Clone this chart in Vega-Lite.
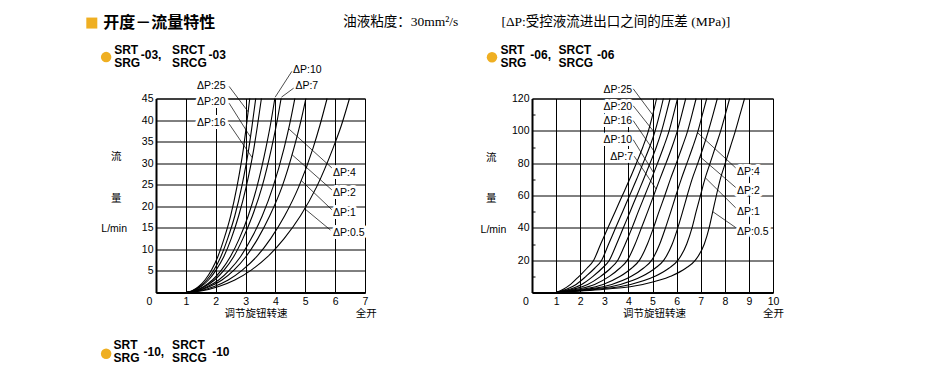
{
 "$schema": "https://vega.github.io/schema/vega-lite/v6.json",
 "background": "#ffffff",
 "padding": {"left": 85, "top": 14.5, "right": 10, "bottom": 8},
 "spacing": 167,
 "bounds": "flush",
 "config": {
  "view": {"stroke": "#000000", "strokeWidth": 1},
  "axis": {"gridColor": "#000000", "gridWidth": 1, "gridOpacity": 1, "domainColor": "#000000", "domainWidth": 2, "labelColor": "#000000", "labelFont": "Liberation Sans", "labelFontSize": 10.5, "labelFlush": false, "labelOverlap": false, "ticks": false}
 },
 "datasets": {
  "lc": [
   {"d":"25","x":1,"y":0},{"d":"25","x":1.21,"y":0.4},{"d":"25","x":1.43,"y":1.4},{"d":"25","x":1.64,"y":2.9},{"d":"25","x":1.86,"y":5.2},{"d":"25","x":2.07,"y":8.3},{"d":"25","x":2.28,"y":12.5},{"d":"25","x":2.5,"y":17.8},{"d":"25","x":2.71,"y":24.5},{"d":"25","x":2.93,"y":33.5},{"d":"25","x":3.03,"y":38.8},{"d":"25","x":3.14,"y":45},
   {"d":"20","x":1,"y":0},{"d":"20","x":1.23,"y":0.4},{"d":"20","x":1.47,"y":1.4},{"d":"20","x":1.7,"y":2.9},{"d":"20","x":1.94,"y":5.2},{"d":"20","x":2.17,"y":8.3},{"d":"20","x":2.4,"y":12.5},{"d":"20","x":2.64,"y":17.8},{"d":"20","x":2.87,"y":24.5},{"d":"20","x":3.11,"y":33.5},{"d":"20","x":3.22,"y":38.8},{"d":"20","x":3.34,"y":45},
   {"d":"16","x":1,"y":0},{"d":"16","x":1.25,"y":0.4},{"d":"16","x":1.51,"y":1.4},{"d":"16","x":1.76,"y":2.9},{"d":"16","x":2.01,"y":5.2},{"d":"16","x":2.27,"y":8.3},{"d":"16","x":2.52,"y":12.5},{"d":"16","x":2.77,"y":17.8},{"d":"16","x":3.02,"y":24.5},{"d":"16","x":3.28,"y":33.5},{"d":"16","x":3.4,"y":38.8},{"d":"16","x":3.53,"y":45},
   {"d":"10","x":1,"y":0},{"d":"10","x":1.3,"y":0.4},{"d":"10","x":1.6,"y":1.4},{"d":"10","x":1.89,"y":2.9},{"d":"10","x":2.19,"y":5.2},{"d":"10","x":2.49,"y":8.3},{"d":"10","x":2.79,"y":12.5},{"d":"10","x":3.09,"y":17.8},{"d":"10","x":3.38,"y":24.5},{"d":"10","x":3.68,"y":33.5},{"d":"10","x":3.83,"y":38.8},{"d":"10","x":3.98,"y":45},
   {"d":"7","x":1,"y":0},{"d":"7","x":1.32,"y":0.4},{"d":"7","x":1.64,"y":1.4},{"d":"7","x":1.96,"y":2.9},{"d":"7","x":2.28,"y":5.2},{"d":"7","x":2.6,"y":8.3},{"d":"7","x":2.91,"y":12.5},{"d":"7","x":3.23,"y":17.8},{"d":"7","x":3.55,"y":24.5},{"d":"7","x":3.87,"y":33.5},{"d":"7","x":4.03,"y":38.8},{"d":"7","x":4.19,"y":45},
   {"d":"4","x":1,"y":0},{"d":"4","x":1.37,"y":0.4},{"d":"4","x":1.73,"y":1.4},{"d":"4","x":2.1,"y":2.9},{"d":"4","x":2.46,"y":5.2},{"d":"4","x":2.83,"y":8.3},{"d":"4","x":3.19,"y":12.5},{"d":"4","x":3.56,"y":17.8},{"d":"4","x":3.92,"y":24.5},{"d":"4","x":4.29,"y":33.5},{"d":"4","x":4.47,"y":38.8},{"d":"4","x":4.65,"y":45},
   {"d":"2","x":1,"y":0},{"d":"2","x":1.4,"y":0.4},{"d":"2","x":1.8,"y":1.4},{"d":"2","x":2.21,"y":2.9},{"d":"2","x":2.61,"y":5.2},{"d":"2","x":3.01,"y":8.3},{"d":"2","x":3.41,"y":12.5},{"d":"2","x":3.81,"y":17.8},{"d":"2","x":4.22,"y":24.5},{"d":"2","x":4.62,"y":33.5},{"d":"2","x":4.82,"y":38.8},{"d":"2","x":5.02,"y":45},
   {"d":"1","x":1,"y":0},{"d":"1","x":1.47,"y":0.4},{"d":"1","x":1.95,"y":1.4},{"d":"1","x":2.42,"y":2.9},{"d":"1","x":2.89,"y":5.2},{"d":"1","x":3.37,"y":8.3},{"d":"1","x":3.84,"y":12.5},{"d":"1","x":4.31,"y":17.8},{"d":"1","x":4.78,"y":24.5},{"d":"1","x":5.26,"y":33.5},{"d":"1","x":5.49,"y":38.8},{"d":"1","x":5.73,"y":45},
   {"d":"0.5","x":1,"y":0},{"d":"0.5","x":1.55,"y":0.4},{"d":"0.5","x":2.1,"y":1.4},{"d":"0.5","x":2.64,"y":2.9},{"d":"0.5","x":3.19,"y":5.2},{"d":"0.5","x":3.74,"y":8.3},{"d":"0.5","x":4.29,"y":12.5},{"d":"0.5","x":4.84,"y":17.8},{"d":"0.5","x":5.38,"y":24.5},{"d":"0.5","x":5.93,"y":33.5},{"d":"0.5","x":6.21,"y":38.8},{"d":"0.5","x":6.48,"y":45}
  ],
  "rc": [
   {"d":"25","x":1,"y":0},{"d":"25","x":1.3,"y":2},{"d":"25","x":1.6,"y":5},{"d":"25","x":1.95,"y":10},{"d":"25","x":2.28,"y":15},{"d":"25","x":2.56,"y":20},{"d":"25","x":2.85,"y":30},{"d":"25","x":3.15,"y":40},{"d":"25","x":3.45,"y":50},{"d":"25","x":3.75,"y":60},{"d":"25","x":4.05,"y":70},{"d":"25","x":4.33,"y":80},{"d":"25","x":4.6,"y":90},{"d":"25","x":4.83,"y":100},{"d":"25","x":5.01,"y":110},{"d":"25","x":5.17,"y":120},
   {"d":"20","x":1,"y":0},{"d":"20","x":1.43,"y":2},{"d":"20","x":1.83,"y":5},{"d":"20","x":2.24,"y":10},{"d":"20","x":2.6,"y":15},{"d":"20","x":2.89,"y":20},{"d":"20","x":3.18,"y":30},{"d":"20","x":3.47,"y":40},{"d":"20","x":3.76,"y":50},{"d":"20","x":4.05,"y":60},{"d":"20","x":4.34,"y":70},{"d":"20","x":4.61,"y":80},{"d":"20","x":4.88,"y":90},{"d":"20","x":5.11,"y":100},{"d":"20","x":5.29,"y":110},{"d":"20","x":5.45,"y":120},
   {"d":"16","x":1,"y":0},{"d":"16","x":1.56,"y":2},{"d":"16","x":2.06,"y":5},{"d":"16","x":2.53,"y":10},{"d":"16","x":2.91,"y":15},{"d":"16","x":3.21,"y":20},{"d":"16","x":3.51,"y":30},{"d":"16","x":3.79,"y":40},{"d":"16","x":4.07,"y":50},{"d":"16","x":4.35,"y":60},{"d":"16","x":4.63,"y":70},{"d":"16","x":4.9,"y":80},{"d":"16","x":5.16,"y":90},{"d":"16","x":5.38,"y":100},{"d":"16","x":5.56,"y":110},{"d":"16","x":5.73,"y":120},
   {"d":"10","x":1,"y":0},{"d":"10","x":1.7,"y":2},{"d":"10","x":2.31,"y":5},{"d":"10","x":2.85,"y":10},{"d":"10","x":3.26,"y":15},{"d":"10","x":3.56,"y":20},{"d":"10","x":3.87,"y":30},{"d":"10","x":4.15,"y":40},{"d":"10","x":4.41,"y":50},{"d":"10","x":4.68,"y":60},{"d":"10","x":4.95,"y":70},{"d":"10","x":5.21,"y":80},{"d":"10","x":5.46,"y":90},{"d":"10","x":5.69,"y":100},{"d":"10","x":5.87,"y":110},{"d":"10","x":6.04,"y":120},
   {"d":"7","x":1,"y":0},{"d":"7","x":1.86,"y":2},{"d":"7","x":2.6,"y":5},{"d":"7","x":3.21,"y":10},{"d":"7","x":3.64,"y":15},{"d":"7","x":3.96,"y":20},{"d":"7","x":4.28,"y":30},{"d":"7","x":4.54,"y":40},{"d":"7","x":4.8,"y":50},{"d":"7","x":5.05,"y":60},{"d":"7","x":5.3,"y":70},{"d":"7","x":5.56,"y":80},{"d":"7","x":5.81,"y":90},{"d":"7","x":6.03,"y":100},{"d":"7","x":6.21,"y":110},{"d":"7","x":6.38,"y":120},
   {"d":"5","x":1,"y":0},{"d":"5","x":2.07,"y":2},{"d":"5","x":2.95,"y":5},{"d":"5","x":3.66,"y":10},{"d":"5","x":4.13,"y":15},{"d":"5","x":4.46,"y":20},{"d":"5","x":4.79,"y":30},{"d":"5","x":5.04,"y":40},{"d":"5","x":5.27,"y":50},{"d":"5","x":5.51,"y":60},{"d":"5","x":5.74,"y":70},{"d":"5","x":5.99,"y":80},{"d":"5","x":6.23,"y":90},{"d":"5","x":6.46,"y":100},{"d":"5","x":6.64,"y":110},{"d":"5","x":6.81,"y":120},
   {"d":"4","x":1,"y":0},{"d":"4","x":2.27,"y":2},{"d":"4","x":3.31,"y":5},{"d":"4","x":4.12,"y":10},{"d":"4","x":4.62,"y":15},{"d":"4","x":4.97,"y":20},{"d":"4","x":5.3,"y":30},{"d":"4","x":5.54,"y":40},{"d":"4","x":5.76,"y":50},{"d":"4","x":5.97,"y":60},{"d":"4","x":6.19,"y":70},{"d":"4","x":6.43,"y":80},{"d":"4","x":6.67,"y":90},{"d":"4","x":6.89,"y":100},{"d":"4","x":7.07,"y":110},{"d":"4","x":7.25,"y":120},
   {"d":"2","x":1,"y":0},{"d":"2","x":2.47,"y":2},{"d":"2","x":3.67,"y":5},{"d":"2","x":4.57,"y":10},{"d":"2","x":5.11,"y":15},{"d":"2","x":5.47,"y":20},{"d":"2","x":5.82,"y":30},{"d":"2","x":6.05,"y":40},{"d":"2","x":6.25,"y":50},{"d":"2","x":6.44,"y":60},{"d":"2","x":6.64,"y":70},{"d":"2","x":6.88,"y":80},{"d":"2","x":7.11,"y":90},{"d":"2","x":7.32,"y":100},{"d":"2","x":7.51,"y":110},{"d":"2","x":7.69,"y":120},
   {"d":"1","x":1,"y":0},{"d":"1","x":2.71,"y":2},{"d":"1","x":4.09,"y":5},{"d":"1","x":5.1,"y":10},{"d":"1","x":5.68,"y":15},{"d":"1","x":6.06,"y":20},{"d":"1","x":6.42,"y":30},{"d":"1","x":6.64,"y":40},{"d":"1","x":6.81,"y":50},{"d":"1","x":6.99,"y":60},{"d":"1","x":7.17,"y":70},{"d":"1","x":7.39,"y":80},{"d":"1","x":7.61,"y":90},{"d":"1","x":7.83,"y":100},{"d":"1","x":8.02,"y":110},{"d":"1","x":8.2,"y":120},
   {"d":"0.5","x":1,"y":0},{"d":"0.5","x":3.0,"y":2},{"d":"0.5","x":4.6,"y":5},{"d":"0.5","x":5.75,"y":10},{"d":"0.5","x":6.38,"y":15},{"d":"0.5","x":6.78,"y":20},{"d":"0.5","x":7.15,"y":30},{"d":"0.5","x":7.35,"y":40},{"d":"0.5","x":7.5,"y":50},{"d":"0.5","x":7.65,"y":60},{"d":"0.5","x":7.81,"y":70},{"d":"0.5","x":8.02,"y":80},{"d":"0.5","x":8.23,"y":90},{"d":"0.5","x":8.44,"y":100},{"d":"0.5","x":8.63,"y":110},{"d":"0.5","x":8.82,"y":120}
  ],
  "ll": [
   {"t":"ΔP:25","x":1.37,"y":47.9},
   {"t":"ΔP:20","x":1.37,"y":44.3},
   {"t":"ΔP:16","x":1.37,"y":39.4},
   {"t":"ΔP:10","x":4.59,"y":51.7},
   {"t":"ΔP:7","x":4.67,"y":47.8},
   {"t":"ΔP:4","x":5.93,"y":27.8},
   {"t":"ΔP:2","x":5.93,"y":23.1},
   {"t":"ΔP:1","x":5.93,"y":18.4},
   {"t":"ΔP:0.5","x":5.93,"y":13.8}
  ],
  "lr": [
   {"x":2.45,"y":47.8,"x2":3.09,"y2":41.9},
   {"x":2.45,"y":43.9,"x2":3.16,"y2":36.1},
   {"x":2.45,"y":39.1,"x2":3.22,"y2":31.3},
   {"x":4.55,"y":51.3,"x2":3.99,"y2":45.3},
   {"x":4.61,"y":47.4,"x2":4.2,"y2":45.3},
   {"x":5.89,"y":28.9,"x2":4.44,"y2":38},
   {"x":5.89,"y":23.8,"x2":4.55,"y2":32},
   {"x":5.89,"y":19.2,"x2":4.86,"y2":26},
   {"x":5.84,"y":14.5,"x2":4.97,"y2":19.5}
  ],
  "rl": [
   {"t":"ΔP:25","x":2.97,"y":125.4},
   {"t":"ΔP:20","x":2.97,"y":115.0},
   {"t":"ΔP:16","x":2.97,"y":106.0},
   {"t":"ΔP:10","x":2.97,"y":94.1},
   {"t":"ΔP:7","x":3.25,"y":83.9},
   {"t":"ΔP:4","x":8.51,"y":74.6},
   {"t":"ΔP:2","x":8.51,"y":62.5},
   {"t":"ΔP:1","x":8.51,"y":49.9},
   {"t":"ΔP:0.5","x":8.51,"y":37.7}
  ],
  "rr": [
   {"x":4.2,"y":126.0,"x2":5.0,"y2":110},
   {"x":4.2,"y":115.5,"x2":5.08,"y2":99},
   {"x":4.2,"y":106.3,"x2":5.08,"y2":87},
   {"x":4.2,"y":94.5,"x2":5.05,"y2":74},
   {"x":4.24,"y":84.3,"x2":5.15,"y2":64},
   {"x":8.45,"y":77.1,"x2":6.86,"y2":99},
   {"x":8.45,"y":65.0,"x2":6.97,"y2":84},
   {"x":8.45,"y":52.4,"x2":7.19,"y2":71},
   {"x":8.45,"y":40.2,"x2":7.5,"y2":50}
  ],
  "lt": [
   {"role":"sq","x":-2.15,"y":62.5},
   {"role":"h1","t":"开度－流量特性","x":-1.77,"y":62.5},
   {"role":"h2","t":"油液粘度：30mm²/s","x":6.27,"y":62.7},
   {"role":"dot","x":-1.67,"y":54.6},
   {"role":"sub","t":"SRT","x":-1.4,"y":56.2},
   {"role":"sub","t":"SRG","x":-1.4,"y":53.3},
   {"role":"sub","t":"-03,","x":-0.51,"y":55.0},
   {"role":"sub","t":"SRCT","x":0.54,"y":56.2},
   {"role":"sub","t":"SRCG","x":0.54,"y":53.3},
   {"role":"sub","t":"-03","x":1.76,"y":55.0},
   {"role":"dot","x":-1.67,"y":-14.2},
   {"role":"sub","t":"SRT","x":-1.42,"y":-12.1},
   {"role":"sub","t":"SRG","x":-1.42,"y":-15.2},
   {"role":"sub","t":"-10,","x":-0.42,"y":-13.7},
   {"role":"sub","t":"SRCT","x":0.54,"y":-12.1},
   {"role":"sub","t":"SRCG","x":0.54,"y":-15.2},
   {"role":"sub","t":"-10","x":1.88,"y":-13.7},
   {"role":"ax","t":"流","x":-1.33,"y":31.4},
   {"role":"ax","t":"量","x":-1.33,"y":21.7},
   {"role":"ax","t":"L/min","x":-1.4,"y":14.7},
   {"role":"ax","t":"调节旋钮转速","x":3.35,"y":-5.0},
   {"role":"ax","t":"全开","x":7.04,"y":-5.0}
  ],
  "rt": [
   {"role":"h2","t":"[ΔP:受控液流进出口之间的压差 (MPa)]","x":-1.27,"y":167.2},
   {"role":"dot","x":-1.66,"y":145.5},
   {"role":"sub","t":"SRT","x":-1.31,"y":149.9},
   {"role":"sub","t":"SRG","x":-1.31,"y":142.1},
   {"role":"sub","t":"-06,","x":-0.07,"y":146.7},
   {"role":"sub","t":"SRCT","x":1.1,"y":149.9},
   {"role":"sub","t":"SRCG","x":1.1,"y":142.1},
   {"role":"sub","t":"-06","x":2.7,"y":146.7},
   {"role":"ax","t":"流","x":-1.69,"y":83.1},
   {"role":"ax","t":"量","x":-1.69,"y":57.8},
   {"role":"ax","t":"L/min","x":-1.6,"y":38.8},
   {"role":"ax","t":"调节旋钮转速","x":5.08,"y":-13.4},
   {"role":"ax","t":"全开","x":10.02,"y":-13.4}
  ]
 },
 "hconcat": [
  {
   "width": 209, "height": 194,
   "encoding": {
    "x": {"field": "x", "type": "quantitative", "scale": {"domain": [0, 7], "nice": false, "zero": false},
          "axis": {"values": [0,1,2,3,4,5,6,7], "title": null, "grid": true, "labelPadding": 4,
                   "labelOffset": {"condition": {"test": "datum.value === 0", "value": -7}, "value": 0}}},
    "y": {"field": "y", "type": "quantitative", "scale": {"domain": [0, 45], "nice": false, "zero": false},
          "axis": {"values": [0,5,10,15,20,25,30,35,40,45], "title": null, "grid": true, "labelPadding": 3,
                   "labelExpr": "datum.value === 0 ? '' : datum.label"}}
   },
   "layer": [
    {
     "data": {"name": "lc"},
     "mark": {"type": "line", "color": "#000000", "strokeWidth": 1.1, "interpolate": "monotone"},
     "encoding": {"detail": {"field": "d"}}
    },
    {
     "data": {"name": "ll"},
     "mark": {"type": "text", "align": "left", "baseline": "middle", "font": "Liberation Sans", "fontSize": 10.5, "fill": "#ffffff", "stroke": "#ffffff", "strokeWidth": 6, "strokeJoin": "round"},
     "encoding": {"text": {"field": "t"}}
    },
    {
     "data": {"name": "lr"},
     "mark": {"type": "rule", "color": "#000000", "strokeWidth": 0.7},
     "encoding": {"x2": {"field": "x2"}, "y2": {"field": "y2"}}
    },
    {
     "data": {"name": "ll"},
     "mark": {"type": "text", "align": "left", "baseline": "middle", "font": "Liberation Sans", "fontSize": 10.5, "color": "#000000"},
     "encoding": {"text": {"field": "t"}}
    },
    {
     "data": {"name": "lt"},
     "transform": [{"filter": "datum.role === 'h1'"}],
     "mark": {"type": "text", "align": "left", "baseline": "middle", "font": "Noto Sans CJK SC", "fontWeight": "bold", "fontSize": 16, "color": "#000000"},
     "encoding": {"text": {"field": "t"}}
    },
    {
     "data": {"name": "lt"},
     "transform": [{"filter": "datum.role === 'h2'"}],
     "mark": {"type": "text", "align": "left", "baseline": "middle", "font": "Liberation Serif, Noto Sans CJK SC", "fontSize": 13.5, "color": "#000000"},
     "encoding": {"text": {"field": "t"}}
    },
    {
     "data": {"name": "lt"},
     "transform": [{"filter": "datum.role === 'sub'"}],
     "mark": {"type": "text", "align": "left", "baseline": "middle", "font": "Liberation Sans", "fontWeight": "bold", "fontSize": 12, "color": "#000000"},
     "encoding": {"text": {"field": "t"}}
    },
    {
     "data": {"name": "lt"},
     "transform": [{"filter": "datum.role === 'ax'"}],
     "mark": {"type": "text", "align": "center", "baseline": "middle", "font": "Liberation Sans, Noto Sans CJK SC", "fontSize": 10.5, "color": "#000000"},
     "encoding": {"text": {"field": "t"}}
    },
    {
     "data": {"name": "lt"},
     "transform": [{"filter": "datum.role === 'dot'"}],
     "mark": {"type": "point", "shape": "circle", "filled": true, "color": "#EFAF22", "opacity": 1, "size": 110}
    },
    {
     "data": {"name": "lt"},
     "transform": [{"filter": "datum.role === 'sq'"}],
     "mark": {"type": "point", "shape": "square", "filled": true, "color": "#EFAF22", "opacity": 1, "size": 121}
    }
   ]
  },
  {
   "width": 241, "height": 194,
   "encoding": {
    "x": {"field": "x", "type": "quantitative", "scale": {"domain": [0, 10], "nice": false, "zero": false},
          "axis": {"values": [0,1,2,3,4,5,6,7,8,9,10], "title": null, "grid": true, "labelPadding": 4,
                   "labelOffset": {"condition": {"test": "datum.value === 0", "value": -6.7}, "value": 0}}},
    "y": {"field": "y", "type": "quantitative", "scale": {"domain": [0, 120], "nice": false, "zero": false},
          "axis": {"values": [10,20,30,40,50,60,70,80,90,100,110,120], "title": null, "grid": true,
                   "gridOpacity": {"condition": {"test": "datum.value % 20 === 0", "value": 1}, "value": 0},
                   "ticks": true, "tickSize": -3, "tickColor": "#000000", "tickWidth": 1,
                   "tickOpacity": {"condition": {"test": "datum.value % 20 === 0", "value": 0}, "value": 1},
                   "labelPadding": 6,
                   "labelExpr": "datum.value % 20 === 0 ? datum.label : ''"}}
   },
   "layer": [
    {
     "data": {"name": "rc"},
     "mark": {"type": "line", "color": "#000000", "strokeWidth": 1.1, "interpolate": "monotone"},
     "encoding": {"detail": {"field": "d"}}
    },
    {
     "data": {"name": "rl"},
     "mark": {"type": "text", "align": "left", "baseline": "middle", "font": "Liberation Sans", "fontSize": 10.5, "fill": "#ffffff", "stroke": "#ffffff", "strokeWidth": 6, "strokeJoin": "round"},
     "encoding": {"text": {"field": "t"}}
    },
    {
     "data": {"name": "rr"},
     "mark": {"type": "rule", "color": "#000000", "strokeWidth": 0.7},
     "encoding": {"x2": {"field": "x2"}, "y2": {"field": "y2"}}
    },
    {
     "data": {"name": "rl"},
     "mark": {"type": "text", "align": "left", "baseline": "middle", "font": "Liberation Sans", "fontSize": 10.5, "color": "#000000"},
     "encoding": {"text": {"field": "t"}}
    },
    {
     "data": {"name": "rt"},
     "transform": [{"filter": "datum.role === 'h2'"}],
     "mark": {"type": "text", "align": "left", "baseline": "middle", "font": "Liberation Serif, Noto Sans CJK SC", "fontSize": 13.5, "color": "#000000"},
     "encoding": {"text": {"field": "t"}}
    },
    {
     "data": {"name": "rt"},
     "transform": [{"filter": "datum.role === 'sub'"}],
     "mark": {"type": "text", "align": "left", "baseline": "middle", "font": "Liberation Sans", "fontWeight": "bold", "fontSize": 12, "color": "#000000"},
     "encoding": {"text": {"field": "t"}}
    },
    {
     "data": {"name": "rt"},
     "transform": [{"filter": "datum.role === 'ax'"}],
     "mark": {"type": "text", "align": "center", "baseline": "middle", "font": "Liberation Sans, Noto Sans CJK SC", "fontSize": 10.5, "color": "#000000"},
     "encoding": {"text": {"field": "t"}}
    },
    {
     "data": {"name": "rt"},
     "transform": [{"filter": "datum.role === 'dot'"}],
     "mark": {"type": "point", "shape": "circle", "filled": true, "color": "#EFAF22", "opacity": 1, "size": 110}
    }
   ]
  }
 ]
}
